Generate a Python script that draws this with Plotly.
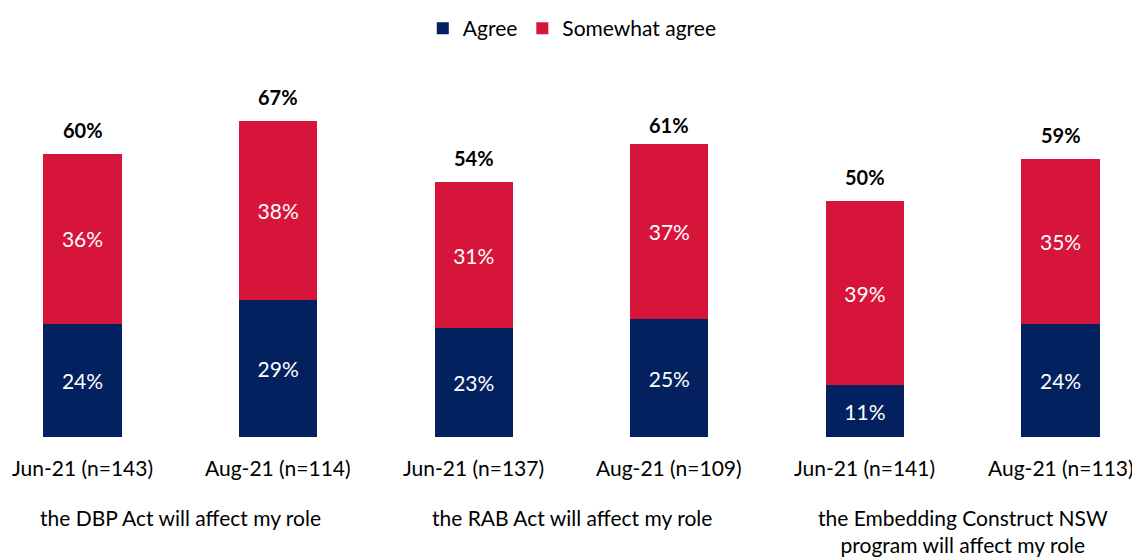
import plotly.graph_objects as go

categories = ["Jun-21 (n=143)", "Aug-21 (n=114)", "Jun-21 (n=137)",
              "Aug-21 (n=109)", "Jun-21 (n=141)", "Aug-21 (n=113)"]
agree = [24, 29, 23, 25, 11, 24]
somewhat_agree = [36, 38, 31, 37, 39, 35]
totals = [60, 67, 54, 61, 50, 59]
group_labels = ["the DBP Act will affect my role",
                "the RAB Act will affect my role",
                "the Embedding Construct NSW<br>program will affect my role"]

NAVY = "#03215F"
RED = "#D7143A"
FONT = "Lato, 'Open Sans', sans-serif"

x = list(range(len(categories)))

fig = go.Figure()
fig.add_trace(go.Bar(
    x=x, y=agree, name="Agree", marker=dict(color=NAVY, line=dict(width=0)),
    width=0.40, text=[f"{v}%" for v in agree], textposition="inside",
    insidetextanchor="middle", textfont=dict(color="white", size=21, family=FONT),
))
fig.add_trace(go.Bar(
    x=x, y=somewhat_agree, name="Somewhat agree", marker=dict(color=RED, line=dict(width=0)),
    width=0.40, text=[f"{v}%" for v in somewhat_agree], textposition="inside",
    insidetextanchor="middle", textfont=dict(color="white", size=21, family=FONT),
))

annotations = []
for i, t in enumerate(totals):
    annotations.append(dict(x=i, y=t, xref="x", yref="y", text=f"<b>{t}%</b>",
                            showarrow=False, yanchor="bottom", yshift=10,
                            font=dict(size=20, color="black", family=FONT)))
for i, c in enumerate(categories):
    annotations.append(dict(x=i, y=0, xref="x", yref="y", text=c, showarrow=False,
                            yanchor="middle", yshift=-30,
                            font=dict(size=21, color="black", family=FONT)))
for g, lab in enumerate(group_labels):
    annotations.append(dict(x=2 * g + 0.5, y=0, xref="x", yref="y", text=lab,
                            showarrow=False, yanchor="top", yshift=-66,
                            font=dict(size=21, color="black", family=FONT)))

fig.update_layout(
    barmode="stack",
    width=1140, height=558,
    margin=dict(l=0, r=0, t=60, b=129),
    plot_bgcolor="white", paper_bgcolor="white",
    font=dict(family=FONT, size=20, color="black"),
    legend=dict(orientation="h", xref="container", yref="container",
                x=0.495, xanchor="center", y=1.0, yanchor="top",
                font=dict(size=21, family=FONT), itemwidth=30, traceorder="normal"),
    xaxis=dict(range=[-0.381, 5.447], showticklabels=False, showgrid=False,
               zeroline=False, showline=False),
    yaxis=dict(range=[0, 78.2], visible=False),
    annotations=annotations,
    uniformtext=dict(mode=False),
)

fig.write_html("out.html")
